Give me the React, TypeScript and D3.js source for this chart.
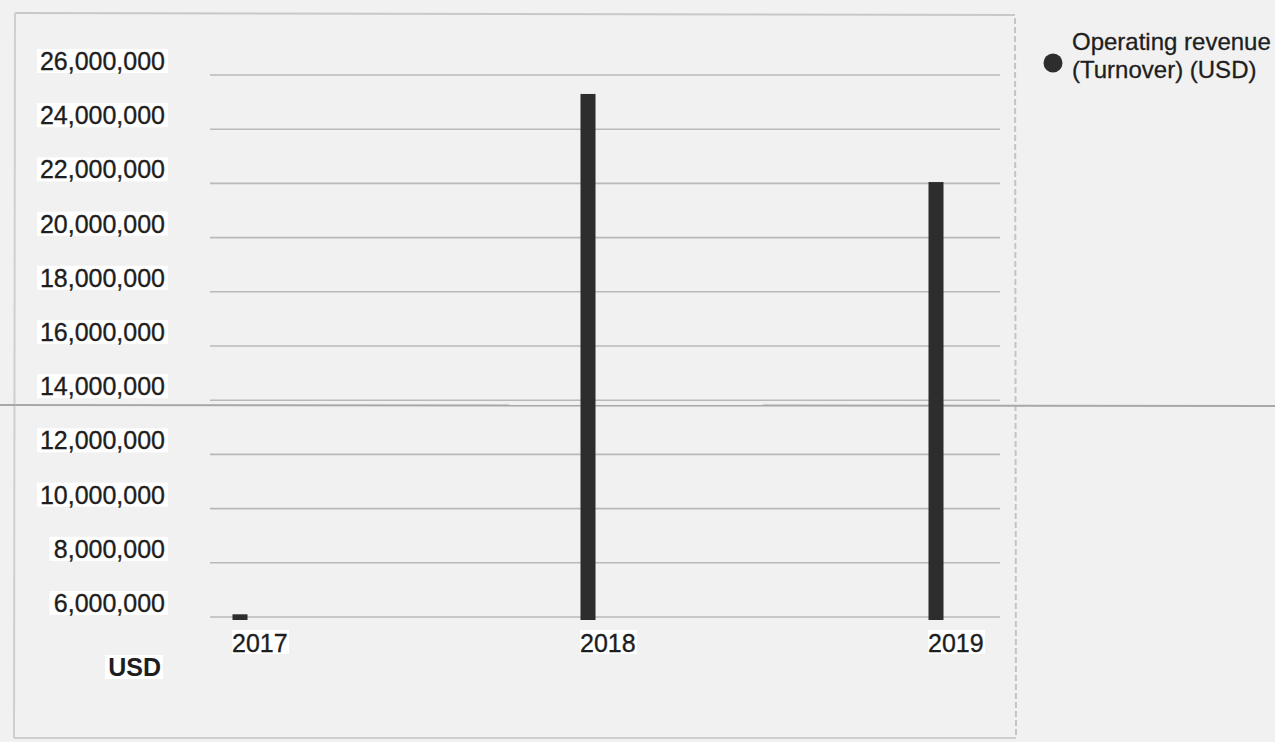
import React from "react";
import * as d3 from "d3";

const years = ["2017", "2018", "2019"];
const revenue = [6100000, 25300000, 22050000];
const tickValues = [6000000, 8000000, 10000000, 12000000, 14000000, 16000000, 18000000, 20000000, 22000000, 24000000, 26000000];
const legendLabel = ["Operating revenue", "(Turnover) (USD)"];
const unitLabel = "USD";

const W = 1275;
const H = 742;
const FONT = "'Liberation Sans', Arial, sans-serif";

export default function App() {
  const y = d3.scaleLinear().domain([6000000, 26000000]).range([617, 75]);
  const x = d3.scalePoint<string>().domain(years).range([240, 936]);
  const fmt = d3.format(",");
  const barW = 15;
  const gridX0 = 210;
  const gridX1 = 1000;
  const ink = "#1e1e1e";

  return (
    <svg
      width={W}
      height={H}
      style={{ position: "absolute", left: 0, top: 0, background: "#f1f1f1" }}
      fontFamily={FONT}
    >
      <rect x={0} y={0} width={W} height={H} fill="#f1f1f1" />
      {/* panel frame */}
      <line x1={15} y1={13} x2={1015} y2={15} stroke="#c8c8c8" strokeWidth={2} />
      <line x1={15} y1={13} x2={14} y2={738} stroke="#cfcfcf" strokeWidth={2} />
      <line x1={1015} y1={18} x2={1016} y2={738} stroke="#c4c4c4" strokeWidth={2} strokeDasharray="6 3" />
      <line x1={14} y1={738} x2={1016} y2={738} stroke="#cfcfcf" strokeWidth={2} />

      {/* gridlines */}
      {tickValues.map((t) => (
        <line key={"g" + t} x1={gridX0} x2={gridX1} y1={y(t)} y2={y(t)} stroke="#b9b9b9" strokeWidth={1.6} />
      ))}

      {/* scan artifact line */}
      <line x1={0} x2={W} y1={405} y2={406} stroke="#a8a8a8" strokeWidth={2} />

      {/* y tick labels */}
      {tickValues.map((t) => {
        const label = fmt(t);
        const w = label.length * 12.5;
        return (
          <g key={"t" + t}>
            <rect x={165 - w - 3} y={y(t) - 26} width={w + 6} height={24} fill="#ffffff" />
            <text x={165} y={y(t) - 5} textAnchor="end" fontSize={25} fill={ink} stroke={ink} strokeWidth={0.35}>
              {label}
            </text>
          </g>
        );
      })}

      {/* bars */}
      {years.map((yr, i) => (
        <rect
          key={"b" + yr}
          x={(x(yr) as number) - barW / 2}
          y={y(revenue[i])}
          width={barW}
          height={y(6000000) - y(revenue[i]) + 3}
          fill="#2d2d2d"
        />
      ))}

      {/* x labels */}
      {years.map((yr) => (
        <g key={"x" + yr}>
          <rect x={(x(yr) as number) - 8} y={630} width={57} height={24} fill="#ffffff" />
          <text x={(x(yr) as number) - 8} y={652} fontSize={25} fill={ink} stroke={ink} strokeWidth={0.35}>
            {yr}
          </text>
        </g>
      ))}

      {/* unit label */}
      <rect x={105} y={655} width={58} height={24} fill="#ffffff" />
      <text x={161} y={676} textAnchor="end" fontSize={25} fontWeight="bold" fill={ink}>
        {unitLabel}
      </text>

      {/* legend */}
      <circle cx={1053} cy={63} r={9.5} fill="#2d2d2d" />
      <text x={1072} y={50} fontSize={24} fill={ink} stroke={ink} strokeWidth={0.3}>
        {legendLabel[0]}
      </text>
      <text x={1072} y={78} fontSize={24} fill={ink} stroke={ink} strokeWidth={0.3}>
        {legendLabel[1]}
      </text>
    </svg>
  );
}
